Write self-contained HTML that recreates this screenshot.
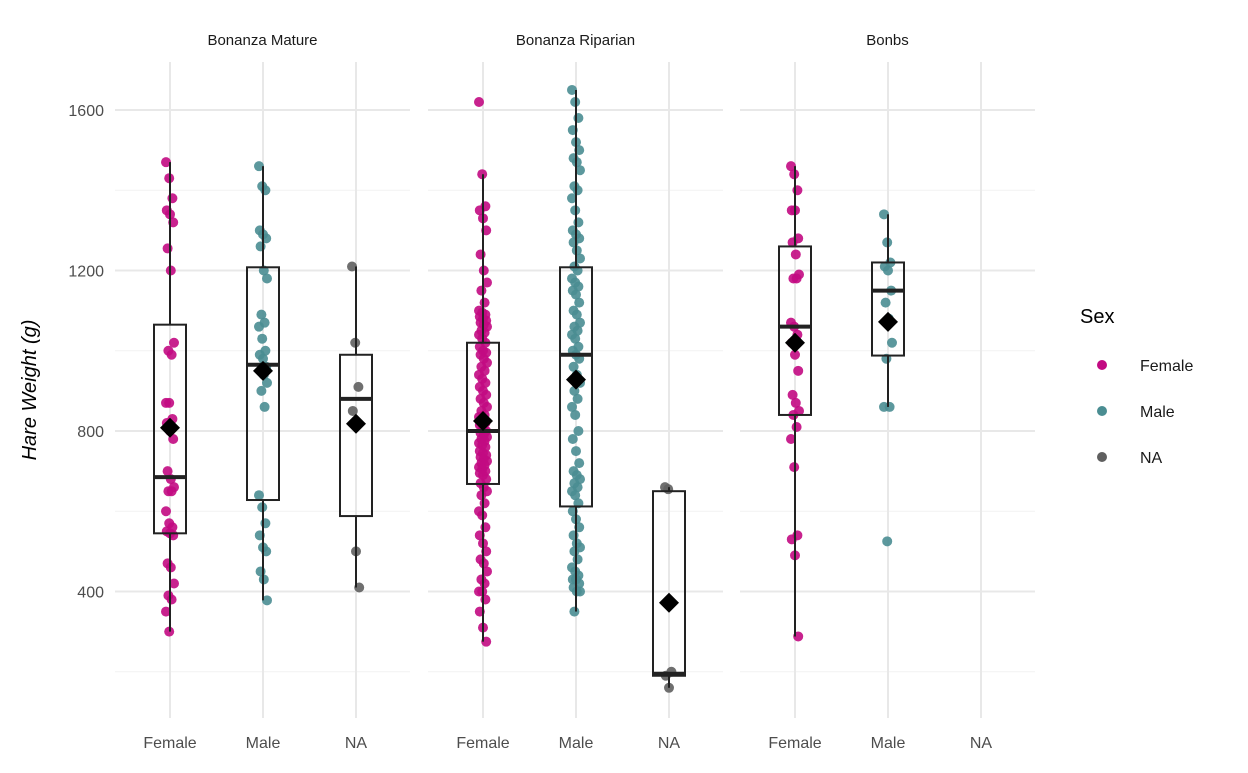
<!DOCTYPE html>
<html><head><meta charset="utf-8"><style>
body{margin:0;background:#fff;font-family:"Liberation Sans",sans-serif;}
svg text{font-family:"Liberation Sans",sans-serif;}
</style></head><body>
<svg id="chart" width="1248" height="768" xmlns="http://www.w3.org/2000/svg"></svg>
<script>
const panels = ["Bonanza Mature","Bonanza Riparian","Bonbs"];
const sexes = ["Female","Male","NA"];
const yTicks = [400,800,1200,1600];
const yMinor = [200,600,1000,1400];
const pts = {
 "Bonanza Mature|Female":[1470,1430,1380,1350,1340,1320,1255,1200,1020,1000,990,870,870,830,820,800,780,700,680,660,650,650,600,570,560,550,545,540,470,460,420,390,380,350,300],
 "Bonanza Mature|Male":[1460,1410,1400,1300,1290,1280,1260,1200,1180,1090,1070,1060,1030,1000,990,980,960,950,940,920,900,860,640,610,570,540,510,500,450,430,378],
 "Bonanza Mature|NA":[1210,1020,910,850,500,410],
 "Bonanza Riparian|Female":[1620,1440,1360,1350,1330,1300,1240,1200,1170,1150,1120,1100,1095,1090,1085,1080,1075,1070,1065,1060,1050,1045,1040,1030,1020,1010,1000,995,990,980,970,960,950,940,930,920,910,900,890,880,870,860,850,840,835,830,820,815,810,800,795,790,785,780,775,770,765,760,750,745,740,735,730,725,720,715,710,705,700,695,690,680,670,660,650,640,620,600,590,560,540,520,500,480,470,450,430,420,400,400,380,350,310,275],
 "Bonanza Riparian|Male":[1650,1620,1580,1550,1520,1500,1480,1470,1450,1410,1400,1380,1350,1320,1300,1290,1280,1270,1250,1230,1210,1200,1180,1170,1160,1150,1140,1120,1100,1090,1070,1060,1050,1040,1030,1010,1000,990,980,960,940,920,900,880,860,840,800,780,750,720,700,690,680,670,660,650,640,620,600,580,560,540,520,510,500,480,460,450,440,430,430,420,410,400,400,350],
 "Bonanza Riparian|NA":[660,655,200,190,160],
 "Bonbs|Female":[1460,1440,1400,1350,1350,1280,1270,1240,1190,1180,1180,1070,1060,1040,1020,990,950,890,870,850,840,810,780,710,540,530,490,288],
 "Bonbs|Male":[1340,1270,1220,1210,1200,1150,1120,1080,1020,980,860,860,525],
 "Bonbs|NA":[]
};
// box stats: [lowWhisker, q1, median, q3, highWhisker, mean]
const boxes = {
 "Bonanza Mature|Female":[300,545,685,1065,1470,808],
 "Bonanza Mature|Male":[378,628,965,1208,1460,950],
 "Bonanza Mature|NA":[410,588,880,990,1210,818],
 "Bonanza Riparian|Female":[275,668,800,1020,1440,825],
 "Bonanza Riparian|Male":[350,612,990,1208,1650,928],
 "Bonanza Riparian|NA":[160,190,195,650,660,372],
 "Bonbs|Female":[288,840,1060,1260,1460,1020],
 "Bonbs|Male":[860,988,1150,1220,1340,1072]
};
const colors = {Female:"#C20A82",Male:"#4A8D92",NA:"#5f5f5f"};
const svg = document.getElementById('chart');
const NS="http://www.w3.org/2000/svg";
function el(t,a,p){const e=document.createElementNS(NS,t);for(const k in a)e.setAttribute(k,a[k]);(p||svg).appendChild(e);return e;}
const y = v => 110 + (1600 - v) * 0.40125;
const panelX0 = [115,428,740], panelW = 295;
const x = (pi,si) => panelX0[pi] + 55 + si*93;
panels.forEach((p,pi)=>{
  const g = el('g',{});
  
  
  yMinor.forEach(v=>el('line',{x1:panelX0[pi],x2:panelX0[pi]+panelW,y1:y(v),y2:y(v),stroke:'#f2f2f2','stroke-width':1},g));
  yTicks.forEach(v=>el('line',{x1:panelX0[pi],x2:panelX0[pi]+panelW,y1:y(v),y2:y(v),stroke:'#e8e8e8','stroke-width':2},g));
  sexes.forEach((s,si)=>el('line',{x1:x(pi,si),x2:x(pi,si),y1:62,y2:718,stroke:'#e8e8e8','stroke-width':2},g));
  const st = el('text',{x:panelX0[pi]+panelW/2,y:45,'text-anchor':'middle','font-size':15,fill:'#1a1a1a'},g);
  st.textContent=p;
  
  
  sexes.forEach((s,si)=>{
    const t=el('text',{x:x(pi,si),y:748,'text-anchor':'middle','font-size':16,fill:'#4d4d4d'},g);
    t.textContent=s;
    
    
  });
});
yTicks.forEach(v=>{
  const t=el('text',{x:104,y:y(v)+6,'text-anchor':'end','font-size':16,fill:'#4d4d4d'});
  t.textContent=v;
  
  
});
// points
panels.forEach((p,pi)=>sexes.forEach((s,si)=>{
  const arr=pts[p+'|'+s]||[];
  arr.forEach((v,i)=>{
    const off=((i*37)%11-5)*0.8;
    const c=el('circle',{cx:x(pi,si)+off,cy:y(v),r:5,fill:colors[s],'fill-opacity':0.9});
    
    
  });
}));
// boxes
panels.forEach((p,pi)=>sexes.forEach((s,si)=>{
  const b=boxes[p+'|'+s]; if(!b) return;
  const cx=x(pi,si);
  const g=el('g',{});
  
  
  el('line',{x1:cx,x2:cx,y1:y(b[0]),y2:y(b[1]),stroke:'#222','stroke-width':2},g);
  el('line',{x1:cx,x2:cx,y1:y(b[3]),y2:y(b[4]),stroke:'#222','stroke-width':2},g);
  el('rect',{x:cx-16,y:y(b[3]),width:32,height:y(b[1])-y(b[3]),fill:'none',stroke:'#222','stroke-width':2},g);
  el('line',{x1:cx-16,x2:cx+16,y1:y(b[2]),y2:y(b[2]),stroke:'#222','stroke-width':4},g);
  const my=y(b[5]);
  el('polygon',{points:`${cx},${my-10} ${cx+10},${my} ${cx},${my+10} ${cx-10},${my}`,fill:'#000'},g);
}));
const yt=el('text',{x:0,y:0,transform:'translate(36,390) rotate(-90)','text-anchor':'middle','font-size':20,'font-style':'italic',fill:'#000'});
yt.textContent='Hare Weight (g)';


const lt=el('text',{x:1080,y:323,'font-size':20,fill:'#000'});
lt.textContent='Sex';


sexes.forEach((s,i)=>{
  const g=el('g',{});
  
  
  el('circle',{cx:1102,cy:365+i*46,r:5,fill:colors[s]},g);
  const t=el('text',{x:1140,y:371+i*46,'font-size':16,fill:'#1a1a1a'},g);
  t.textContent=s;
});
</script>
</body></html>
